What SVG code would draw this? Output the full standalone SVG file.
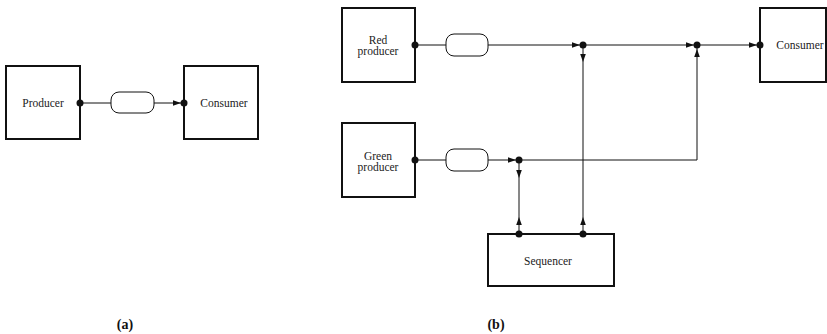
<svg xmlns="http://www.w3.org/2000/svg" xmlns:xlink="http://www.w3.org/1999/xlink" width="827" height="334" viewBox="0 0 827 334">
<style>
.box{fill:#fff;stroke:#111;stroke-width:2}
.pill{fill:#fff;stroke:#111;stroke-width:1}
.ln{fill:none;stroke:#111;stroke-width:1}
.dot{fill:#111}
.t{font-family:"Liberation Serif","Times New Roman",serif;font-size:11.5px;fill:#222;text-anchor:middle}
.lab{font-family:"Liberation Serif","Times New Roman",serif;font-size:14px;font-weight:bold;fill:#111;text-anchor:middle}
</style>
<defs>
<path id="ah" d="M0,0 L-8,-2.8 L-8,2.8 Z" fill="#111"/>
</defs>
<rect width="827" height="334" fill="#fff"/>
<g id="connectors">
<line class="ln" x1="80" y1="103" x2="111" y2="103"/>
<line class="ln" x1="154" y1="103" x2="181" y2="103"/>
<use xlink:href="#ah" transform="translate(181,103)"/>
<line class="ln" x1="415" y1="45" x2="446" y2="45"/>
<line class="ln" x1="488" y1="45" x2="760" y2="45"/>
<use xlink:href="#ah" transform="translate(580,45)"/>
<use xlink:href="#ah" transform="translate(694,45)"/>
<use xlink:href="#ah" transform="translate(757,45)"/>
<line class="ln" x1="415" y1="160" x2="446" y2="160"/>
<line class="ln" x1="488" y1="160" x2="697" y2="160"/>
<use xlink:href="#ah" transform="translate(516,160)"/>
<line class="ln" x1="583" y1="45" x2="583" y2="234"/>
<line class="ln" x1="519" y1="160" x2="519" y2="234"/>
<line class="ln" x1="697" y1="45" x2="697" y2="160"/>
<use xlink:href="#ah" transform="translate(583,62) rotate(90)"/>
<use xlink:href="#ah" transform="translate(519,178) rotate(90)"/>
<use xlink:href="#ah" transform="translate(697,49) rotate(-90)"/>
<use xlink:href="#ah" transform="translate(519,217) rotate(-90)"/>
<use xlink:href="#ah" transform="translate(583,217) rotate(-90)"/>
</g>
<g id="channel-a"><rect class="pill" x="111" y="92" width="43" height="21" rx="8"/></g>
<g id="channel-red"><rect class="pill" x="446" y="34" width="42" height="22" rx="8"/></g>
<g id="channel-green"><rect class="pill" x="446" y="149" width="42" height="22" rx="8"/></g>
<g id="producer-a">
<rect class="box" x="6" y="66" width="74" height="73"/>
<text class="t" x="43" y="107">Producer</text>
<circle class="dot" cx="80" cy="103" r="3.5"/>
</g>
<g id="consumer-a">
<rect class="box" x="184" y="66" width="74" height="73"/>
<text class="t" x="224" y="107">Consumer</text>
<circle class="dot" cx="184" cy="103" r="3.5"/>
</g>
<g id="red-producer">
<rect class="box" x="342" y="8" width="73" height="74"/>
<text class="t" x="378" y="44">Red</text>
<text class="t" x="378" y="55">producer</text>
<circle class="dot" cx="415" cy="45" r="3.5"/>
</g>
<g id="green-producer">
<rect class="box" x="342" y="123" width="73" height="74"/>
<text class="t" x="378" y="160">Green</text>
<text class="t" x="378" y="171">producer</text>
<circle class="dot" cx="415" cy="160" r="3.5"/>
</g>
<g id="junctions">
<circle class="dot" cx="583" cy="45" r="3.5"/>
<circle class="dot" cx="697" cy="45" r="3.5"/>
<circle class="dot" cx="519" cy="160" r="3.5"/>
</g>
<g id="consumer-b">
<rect class="box" x="760" y="8" width="66" height="74"/>
<text class="t" x="800" y="49">Consumer</text>
<circle class="dot" cx="760" cy="45" r="3.5"/>
</g>
<g id="sequencer">
<rect class="box" x="488" y="234" width="126" height="52"/>
<text class="t" x="548" y="265">Sequencer</text>
<circle class="dot" cx="519" cy="234" r="3.5"/>
<circle class="dot" cx="583" cy="234" r="3.5"/>
</g>
<text class="lab" x="125" y="329">(a)</text>
<text class="lab" x="496" y="329">(b)</text>
</svg>
